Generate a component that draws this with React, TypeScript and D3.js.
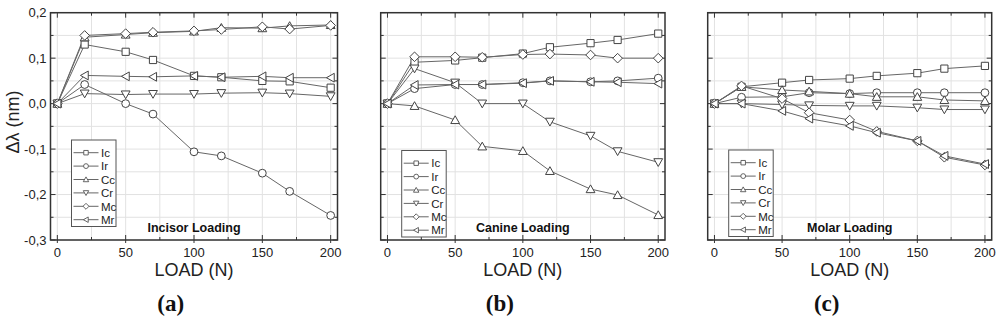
import React from "react";
import * as d3 from "d3";

const loads = [0, 20, 50, 70, 100, 120, 150, 170, 200];
const seriesNames = ["Ic", "Ir", "Cc", "Cr", "Mc", "Mr"];

const incisorIc = [0, 0.13, 0.114, 0.096, 0.061, 0.058, 0.05, 0.049, 0.035];
const incisorIr = [0, 0.042, 0.0, -0.023, -0.106, -0.115, -0.153, -0.193, -0.246];
const incisorCc = [0, 0.146, 0.152, 0.156, 0.159, 0.167, 0.166, 0.171, 0.173];
const incisorCr = [0, 0.022, 0.02, 0.021, 0.021, 0.023, 0.024, 0.022, 0.016];
const incisorMc = [0, 0.15, 0.154, 0.157, 0.16, 0.163, 0.169, 0.164, 0.172];
const incisorMr = [0, 0.062, 0.06, 0.059, 0.061, 0.058, 0.06, 0.057, 0.057];

const canineIc = [0, 0.091, 0.095, 0.101, 0.11, 0.124, 0.133, 0.14, 0.154];
const canineIr = [0, 0.033, 0.042, 0.042, 0.046, 0.05, 0.048, 0.05, 0.056];
const canineCc = [0, -0.005, -0.036, -0.094, -0.104, -0.148, -0.188, -0.201, -0.245];
const canineCr = [0, 0.077, 0.046, 0.0, 0.0, -0.04, -0.071, -0.105, -0.129];
const canineMc = [0, 0.103, 0.103, 0.102, 0.108, 0.109, 0.107, 0.1, 0.1];
const canineMr = [0, 0.041, 0.042, 0.042, 0.045, 0.05, 0.048, 0.047, 0.044];

const molarIc = [0, 0.037, 0.046, 0.052, 0.055, 0.061, 0.067, 0.077, 0.083];
const molarIr = [0, 0.014, 0.015, 0.024, 0.022, 0.024, 0.024, 0.024, 0.024];
const molarCc = [0, 0.037, 0.03, 0.027, 0.022, 0.015, 0.015, 0.008, 0.006];
const molarCr = [0, 0.0, -0.002, -0.004, -0.005, -0.005, -0.009, -0.013, -0.013];
const molarMc = [0, 0.039, 0.011, -0.02, -0.036, -0.061, -0.082, -0.118, -0.135];
const molarMr = [0, 0.0, -0.016, -0.033, -0.049, -0.064, -0.082, -0.115, -0.133];

const yTickLabels = ["0,2", "0,1", "0,0", "-0,1", "-0,2", "-0,3"];
const yTickValues = [0.2, 0.1, 0.0, -0.1, -0.2, -0.3];
const xTickValues = [0, 50, 100, 150, 200];

const panels = [
  { title: "Incisor Loading", tag: "(a)", series: [incisorIc, incisorIr, incisorCc, incisorCr, incisorMc, incisorMr], left: 50.5, right: 337.5, legendTop: 140, showY: true },
  { title: "Canine Loading", tag: "(b)", series: [canineIc, canineIr, canineCc, canineCr, canineMc, canineMr], left: 380.7, right: 665, legendTop: 150.5, showY: false },
  { title: "Molar Loading", tag: "(c)", series: [molarIc, molarIr, molarCc, molarCr, molarMc, molarMr], left: 707.7, right: 991.7, legendTop: 150, showY: false },
];

const TOP = 12.7;
const BOTTOM = 240;

function markerPath(kind: number, s: number): string {
  switch (kind) {
    case 0: {
      const h = 3.6 * s;
      return `M${-h},${-h}H${h}V${h}H${-h}Z`;
    }
    case 1: {
      const r = 3.9 * s;
      return `M${r},0A${r},${r} 0 1,1 ${-r},0A${r},${r} 0 1,1 ${r},0Z`;
    }
    case 2: {
      const w = 4.4 * s, h = 4.2 * s;
      return `M0,${-h}L${w},${h * 0.85}L${-w},${h * 0.85}Z`;
    }
    case 3: {
      const w = 4.4 * s, h = 4.2 * s;
      return `M0,${h}L${w},${-h * 0.85}L${-w},${-h * 0.85}Z`;
    }
    case 4: {
      const r = 4.8 * s;
      return `M0,${-r}L${r},0L0,${r}L${-r},0Z`;
    }
    default: {
      const w = 4.2 * s, h = 4.4 * s;
      return `M${-w},0L${w * 0.85},${-h}L${w * 0.85},${h}Z`;
    }
  }
}

function Panel({ p }: { p: (typeof panels)[number] }) {
  const x = d3.scaleLinear().domain([-5, 205]).range([p.left, p.right]);
  const y = d3.scaleLinear().domain([-0.3, 0.2]).range([BOTTOM, TOP]);
  const xGrid = d3.range(0, 201, 25);
  const yGrid = d3.range(-6, 5).map((i) => i * 0.05);
  const line = d3.line<[number, number]>().x((d) => x(d[0])).y((d) => y(d[1]));
  const cx = (p.left + p.right) / 2;
  const lg = { x: p.left + 21, y: p.legendTop, w: 44.5, h: 86.5 };
  return (
    <g>
      {xGrid.map((v) => (
        <line key={"gx" + v} x1={x(v)} x2={x(v)} y1={TOP} y2={BOTTOM} stroke="#e2e2e2" strokeWidth={1} />
      ))}
      {yGrid.map((v, i) => (
        <line key={"gy" + i} x1={p.left} x2={p.right} y1={y(v)} y2={y(v)} stroke="#e2e2e2" strokeWidth={1} />
      ))}
      {/* ticks */}
      {xGrid.map((v) => {
        const major = v % 50 === 0;
        const L = major ? 5 : 3;
        return (
          <g key={"tx" + v} stroke="#333" strokeWidth={1}>
            <line x1={x(v)} x2={x(v)} y1={BOTTOM} y2={BOTTOM - L} />
            {major && <line x1={x(v)} x2={x(v)} y1={BOTTOM} y2={BOTTOM + 3} />}
            <line x1={x(v)} x2={x(v)} y1={TOP} y2={TOP + L} />
          </g>
        );
      })}
      {yGrid.map((v, i) => {
        const major = i % 2 === 0;
        const L = major ? 5 : 3;
        return (
          <g key={"ty" + i} stroke="#333" strokeWidth={1}>
            <line x1={p.left} x2={p.left + L} y1={y(v)} y2={y(v)} />
            <line x1={p.right} x2={p.right - L} y1={y(v)} y2={y(v)} />
          </g>
        );
      })}
      {p.series.map((vals, si) => (
        <path key={"l" + si} d={line(loads.map((l, i) => [l, vals[i]] as [number, number])) || ""} fill="none" stroke="#666" strokeWidth={1} />
      ))}
      {p.series.map((vals, si) => (
        <g key={"m" + si}>
          {loads.map((l, i) => (
            <path key={i} d={markerPath(si, 1)} transform={`translate(${x(l)},${y(vals[i])})`} fill="#fff" stroke="#444" strokeWidth={1} />
          ))}
        </g>
      ))}
      <rect x={p.left} y={TOP} width={p.right - p.left} height={BOTTOM - TOP} fill="none" stroke="#333" strokeWidth={1.5} />
      {/* legend */}
      <rect x={lg.x} y={lg.y} width={lg.w} height={lg.h} fill="#fff" stroke="#555" strokeWidth={1} />
      {seriesNames.map((n, i) => {
        const yy = lg.y + 12.7 + i * 13.4;
        return (
          <g key={"lg" + n}>
            <line x1={lg.x + 2} x2={lg.x + 27} y1={yy} y2={yy} stroke="#666" strokeWidth={1} />
            <path d={markerPath(i, 0.62)} transform={`translate(${lg.x + 14.5},${yy})`} fill="#fff" stroke="#555" strokeWidth={0.9} />
            <text x={lg.x + 29.5} y={yy + 4.2} fontSize={11.5} fontFamily="Liberation Sans, Arial, sans-serif" fill="#222">{n}</text>
          </g>
        );
      })}
      <text x={cx} y={231.5} textAnchor="middle" fontSize={12.5} fontWeight="bold" fontFamily="Liberation Sans, Arial, sans-serif" fill="#111">{p.title}</text>
      {xTickValues.map((v) => (
        <text key={"xl" + v} x={x(v)} y={256.5} textAnchor="middle" fontSize={13} fontFamily="Liberation Sans, Arial, sans-serif" fill="#222">{v}</text>
      ))}
      {p.showY &&
        yTickValues.map((v, i) => (
          <text key={"yl" + i} x={p.left - 4} y={y(v) + 4.6} textAnchor="end" fontSize={13} fontFamily="Liberation Sans, Arial, sans-serif" fill="#222">{yTickLabels[i]}</text>
        ))}
      <text x={x(100)} y={275.5} textAnchor="middle" fontSize={18} fontFamily="Liberation Sans, Arial, sans-serif" fill="#222">LOAD (N)</text>
      <text x={x(83)} y={310.5} textAnchor="middle" fontSize={23} fontWeight="bold" fontFamily="Liberation Serif, Times New Roman, serif" fill="#111">{p.tag}</text>
    </g>
  );
}

export default function App() {
  return (
    <svg width={1000} height={320} style={{ position: "absolute", left: 0, top: 0, background: "#fff" }}>
      <rect x={0} y={0} width={1000} height={320} fill="#fff" />
      {panels.map((p) => (
        <Panel key={p.tag} p={p} />
      ))}
      <text transform="translate(19,122) rotate(-90)" textAnchor="middle" fontSize={18} fontFamily="Liberation Sans, Arial, sans-serif" fill="#222">Δλ (nm)</text>
    </svg>
  );
}
